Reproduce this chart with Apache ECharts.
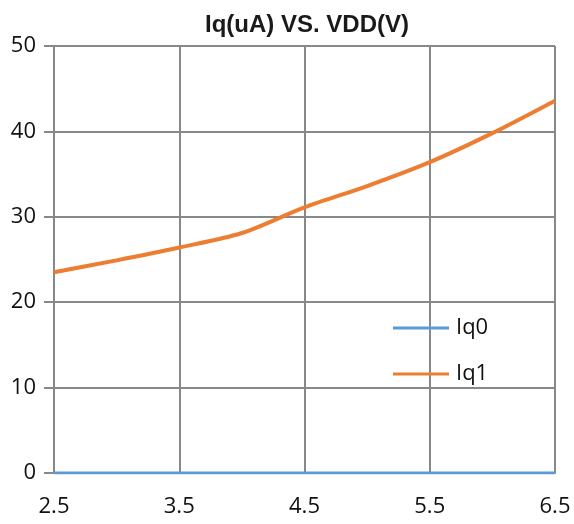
<!DOCTYPE html>
<html>
<head>
<meta charset="utf-8">
<script src="https://cdn.jsdelivr.net/npm/echarts@6/dist/echarts.min.js"></script>
<style>html,body{margin:0;padding:0;background:#fff}#c{width:574px;height:524px}</style>
</head>
<body>
<div id="c"></div>
<script>
var vdd = [2.5, 3.0, 3.5, 4.0, 4.5, 5.0, 5.5, 6.0, 6.5];
var iq0 = [0, 0, 0, 0, 0, 0, 0, 0, 0];
var iq1 = [23.5, 24.9, 26.4, 28.1, 31.1, 33.6, 36.4, 39.8, 43.6];
var titleText = 'Iq(uA) VS. VDD(V)';
var seriesNames = ['Iq0', 'Iq1'];

function pairs(xs, ys) { return xs.map(function (x, i) { return [x, ys[i]]; }); }

var chart = echarts.init(document.getElementById('c'), null, { renderer: 'canvas' });
chart.setOption({
  animation: false,
  backgroundColor: '#fff',
  title: {
    text: titleText, left: 302, top: 8, textAlign: 'center',
    textStyle: { fontFamily: 'Liberation Sans', fontWeight: 'bold', fontSize: 24, color: '#1a1a1a' }
  },
  grid: { left: 54, right: 19, top: 46, bottom: 51, containLabel: false },
  legend: {
    orient: 'vertical', left: 388, top: 312, itemGap: 24,
    icon: 'rect', itemWidth: 56, itemHeight: 3,
    textStyle: { fontFamily: 'Open Sans', fontSize: 22, color: '#111', padding: [0, 0, 0, 2] },
    data: seriesNames
  },
  xAxis: {
    type: 'value', min: 2.5, max: 6.5, interval: 1,
    axisLine: { show: true, lineStyle: { color: '#888', width: 2 } },
    axisTick: { show: false },
    axisLabel: { fontFamily: 'Open Sans', fontSize: 22, color: '#111', margin: 23,
      formatter: function (v) { return v.toFixed(1); } },
    splitLine: { show: true, lineStyle: { color: '#888', width: 2 } }
  },
  yAxis: {
    type: 'value', min: 0, max: 50, interval: 10,
    axisLine: { show: true, lineStyle: { color: '#888', width: 2 } },
    axisTick: { show: true, inside: false, length: 10, lineStyle: { color: '#888', width: 2 } },
    axisLabel: { fontFamily: 'Open Sans', fontSize: 22, color: '#111', margin: 18 },
    splitLine: { show: true, lineStyle: { color: '#888', width: 2 } }
  },
  series: [
    { name: seriesNames[0], type: 'line', data: pairs(vdd, iq0), showSymbol: false, symbol: 'none',
      lineStyle: { color: '#5b9bd5', width: 3 }, itemStyle: { color: '#5b9bd5' } },
    { name: seriesNames[1], type: 'line', data: pairs(vdd, iq1), showSymbol: false, symbol: 'none', smooth: 0.3,
      lineStyle: { color: '#ed7d31', width: 4 }, itemStyle: { color: '#ed7d31' } }
  ]
});
</script>
</body>
</html>
